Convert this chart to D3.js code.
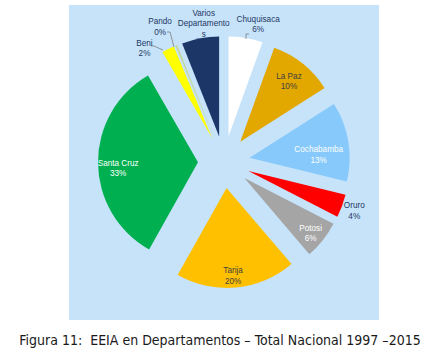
<!DOCTYPE html>
<html>
<head>
<meta charset="utf-8">
<script src="https://cdn.jsdelivr.net/npm/d3@7"></script>
<style>
  body { margin: 0; background: #fff; }
  svg text { font-family: "Liberation Sans", Arial, sans-serif; }
</style>
</head>
<body>
<svg id="chart" width="440" height="356"></svg>
<script>
// Data
const departamentos = ["Chuquisaca", "La Paz", "Cochabamba", "Oruro", "Potosi", "Tarija", "Santa Cruz", "Beni", "Pando", "Varios Departamentos"];
const valores = [5.5, 10.4, 12.8, 3.7, 6.2, 19.3, 33.4, 2.0, 0.3, 6.0];
const porcentajes = ["6%", "10%", "13%", "4%", "6%", "20%", "33%", "2%", "0%", "6%"];
const colores = ["#ffffff", "#e2a800", "#86c9fa", "#ff0000", "#a5a5a5", "#ffc000", "#00b050", "#ffff00", "#c4d79b", "#1c3767"];

// Label layout: distance from centre, angle tweak (deg), text colour, line breaks
const labelCfg = {
  "Chuquisaca": { r: 142, da: 4, fill: "#1f3864" },
  "La Paz": { r: 104, da: 0, fill: "#404040" },
  "Cochabamba": { r: 95, da: 5, fill: "#ffffff" },
  "Oruro": { r: 139, da: 0, fill: "#1f3864" },
  "Potosi": { r: 112, da: 1, fill: "#ffffff" },
  "Tarija": { r: 114, da: 1, fill: "#404040" },
  "Santa Cruz": { r: 106, da: -3, fill: "#ffffff" },
  "Beni": { r: 139, da: -8.5, fill: "#1f3864" },
  "Pando": { r: 150, da: -3, fill: "#1f3864" },
  "Varios Departamentos": { r: 140, da: 2.5, fill: "#1f3864", lines: ["Varios", "Departamento", "s"] }
};

const svg = d3.select("#chart");

// Plot background
svg.append("rect")
  .attr("x", 69).attr("y", 5)
  .attr("width", 310).attr("height", 315)
  .attr("fill", "#c6e3fa");

const cx = 224, cy = 162;
const radius = 100;
const explode = 26;

const data = departamentos.map((d, i) => ({ name: d, value: valores[i], pct: porcentajes[i], color: colores[i] }));

const pie = d3.pie().value(d => d.value).sort(null);
const arc = d3.arc().innerRadius(0).outerRadius(radius);
const arcs = pie(data);

const g = svg.append("g").attr("transform", `translate(${cx},${cy})`);

function offset(d) {
  const a = (d.startAngle + d.endAngle) / 2;
  return [Math.sin(a) * explode, -Math.cos(a) * explode];
}

g.selectAll("path.slice")
  .data(arcs)
  .enter()
  .append("path")
  .attr("class", "slice")
  .attr("transform", d => `translate(${offset(d)})`)
  .attr("d", arc)
  .attr("fill", d => d.data.color);

// Leader lines for the small labels on top
const leaders = {
  "Chuquisaca": [[246, 39], [246, 34], [249, 34]],
  "Pando": [[167, 32], [170, 32], [174, 47]],
  "Beni": [[151, 46], [154, 46], [163, 50]]
};
Object.keys(leaders).forEach(k => {
  svg.append("path")
    .attr("d", d3.line()(leaders[k]))
    .attr("fill", "none")
    .attr("stroke", "#7f7f7f")
    .attr("stroke-width", 0.8);
});

// Labels
arcs.forEach(d => {
  const cfg = labelCfg[d.data.name];
  const a = (d.startAngle + d.endAngle) / 2 + cfg.da * Math.PI / 180;
  const x = cx + Math.sin(a) * cfg.r;
  const y = cy - Math.cos(a) * cfg.r;
  const lines = cfg.lines ? cfg.lines : [d.data.name, d.data.pct];
  const lh = 10.5;
  const t = svg.append("text")
    .attr("text-anchor", "middle")
    .attr("font-size", 8.2)
    .attr("fill", cfg.fill);
  lines.forEach((s, i) => {
    t.append("tspan")
      .attr("x", x)
      .attr("y", y + (i - (lines.length - 1) / 2) * lh + 3)
      .text(s);
  });
});

// Caption
svg.append("text")
  .attr("x", 220)
  .attr("y", 345)
  .attr("text-anchor", "middle")
  .attr("font-size", 14)
  .style("font-family", "'DejaVu Sans Condensed', 'DejaVu Sans', sans-serif")
  .style("white-space", "pre")
  .attr("fill", "#1a1a1a")
  .text("Figura 11:  EEIA en Departamentos – Total Nacional 1997 –2015");
</script>
</body>
</html>
